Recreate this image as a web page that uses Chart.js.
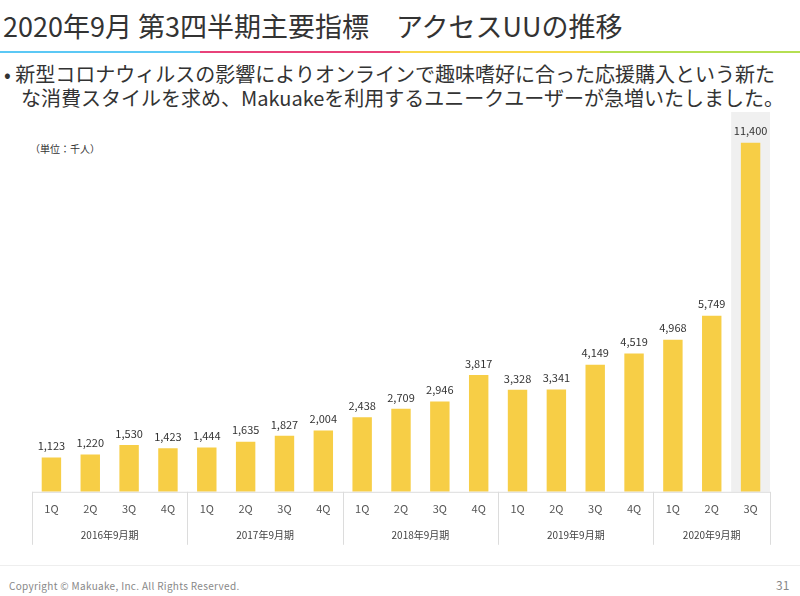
<!DOCTYPE html>
<html lang="ja">
  <head>
    <meta charset="UTF-8" />
    <title>アクセスUUの推移</title>
    <script src="https://cdn.jsdelivr.net/npm/chart.js"></script>
    <style>
      body { margin: 0; width: 800px; height: 596px; position: relative; background: #fff; overflow: hidden;
             font-family: "Noto Sans CJK JP", "Noto Sans", sans-serif; color: #333; }
      .abs { position: absolute; white-space: nowrap; }
      #title { left: 3px; top: 9px; font-size: 27px; line-height: 34px; }
      #bar { left: 0; top: 51px; width: 800px; height: 2px; display: flex; }
      #bar div { flex: 1; }
      .bullet { font-size: 20px; line-height: 24px; left: 4px; }
      #unit { left: 30px; top: 141px; font-size: 10px; color: #333; }
      #foot { left: 0; top: 565px; width: 800px; border-top: 1px solid #eee; }
      #copy { left: 9px; top: 578px; font-size: 10px; color: #888; letter-spacing: 0.32px; }
      #page { left: 776px; top: 576px; font-size: 12px; color: #888; }
      #wrap { position: absolute; left: 0; top: 110px; width: 800px; height: 450px; }
    </style>
  </head>
  <body>
    <div id="title" class="abs">2020年9月 第3四半期主要指標　アクセスUUの推移</div>
    <div id="bar" class="abs">
      <div style="background:#5bc8f5"></div>
      <div style="background:#e8427a"></div>
      <div style="background:#f8d74a"></div>
      <div style="background:#b5df52"></div>
    </div>
    <div class="abs bullet" style="top:62px">•&nbsp;新型コロナウィルスの影響によりオンラインで趣味嗜好に合った応援購入という新た</div>
    <div class="abs bullet" style="top:86px; left:21px">な消費スタイルを求め、Makuakeを利用するユニークユーザーが急増いたしました。</div>
    <div id="unit" class="abs">（単位：千人）</div>
    <div id="wrap"><canvas id="myChart"></canvas></div>
    <div id="foot" class="abs"></div>
    <div id="copy" class="abs">Copyright © Makuake, Inc. All Rights Reserved.</div>
    <div id="page" class="abs">31</div>

    <script>
      const quarters = ["1Q", "2Q", "3Q", "4Q", "1Q", "2Q", "3Q", "4Q", "1Q", "2Q", "3Q", "4Q",
                        "1Q", "2Q", "3Q", "4Q", "1Q", "2Q", "3Q"];
      const years = ["2016年9月期", "2017年9月期", "2018年9月期", "2019年9月期", "2020年9月期"];
      const yearSizes = [4, 4, 4, 4, 3];
      const uu = [1123, 1220, 1530, 1423, 1444, 1635, 1827, 2004, 2438, 2709, 2946, 3817,
                  3328, 3341, 4149, 4519, 4968, 5749, 11400];
      const highlightIndex = 18;

      // gray backdrop, axis boxes, year labels, value labels
      const decor = {
        id: "decor",
        beforeDatasetsDraw(chart) {
          const { ctx, chartArea, scales } = chart;
          const x = scales.x;
          const half = (x.getPixelForValue(1) - x.getPixelForValue(0)) / 2;
          const cx = x.getPixelForValue(highlightIndex);
          ctx.save();
          ctx.fillStyle = "#f0f0f0";
          ctx.fillRect(cx - half, chartArea.top, half * 2, chartArea.bottom - chartArea.top);
          ctx.restore();
        },
        afterDatasetsDraw(chart) {
          const { ctx, chartArea, scales } = chart;
          const x = scales.x;
          const half = (x.getPixelForValue(1) - x.getPixelForValue(0)) / 2;
          const base = chartArea.bottom;
          ctx.save();
          ctx.strokeStyle = "#dcdcdc";
          ctx.lineWidth = 1;
          ctx.beginPath();
          ctx.moveTo(chartArea.left, base + 0.5);
          ctx.lineTo(chartArea.right, base + 0.5);
          let start = 0;
          const edges = [];
          yearSizes.forEach((n) => { edges.push(start); start += n; });
          edges.push(start);
          edges.forEach((i) => {
            const px = Math.round(x.getPixelForValue(i) - half) + 0.5;
            ctx.moveTo(px, base);
            ctx.lineTo(px, base + 53);
          });
          ctx.stroke();

          ctx.fillStyle = "#444";
          ctx.font = "10px 'Noto Sans CJK JP'";
          ctx.textAlign = "center";
          ctx.textBaseline = "middle";
          years.forEach((y, k) => {
            const a = x.getPixelForValue(edges[k]) - half;
            const b = x.getPixelForValue(edges[k + 1]) - half;
            ctx.fillText(y, (a + b) / 2, base + 43);
          });

          ctx.fillStyle = "#333";
          ctx.font = "11px 'Noto Sans CJK JP'";
          ctx.textBaseline = "bottom";
          const meta = chart.getDatasetMeta(0);
          meta.data.forEach((bar, i) => {
            ctx.fillText(uu[i].toLocaleString("en-US"), bar.x, bar.y - 6);
          });
          ctx.restore();
        },
      };

      const ctx = document.getElementById("myChart").getContext("2d");
      const myChart = new Chart(ctx, {
        type: "bar",
        data: {
          labels: quarters,
          datasets: [
            {
              label: "アクセスUU",
              data: uu,
              backgroundColor: "#f7ce46",
              barPercentage: 0.5,
              categoryPercentage: 1,
            },
          ],
        },
        options: {
          responsive: true,
          maintainAspectRatio: false,
          animation: false,
          layout: { padding: { left: 32, right: 30, top: 2, bottom: 43 } },
          plugins: { legend: { display: false }, tooltip: { enabled: false } },
          scales: {
            x: {
              grid: { display: false },
              border: { display: false },
              ticks: { color: "#555", padding: 2, font: { size: 11, family: "Noto Sans CJK JP" } },
            },
            y: { display: false, min: 0, max: 12400 },
          },
        },
        plugins: [decor],
      });
    </script>
  </body>
</html>
